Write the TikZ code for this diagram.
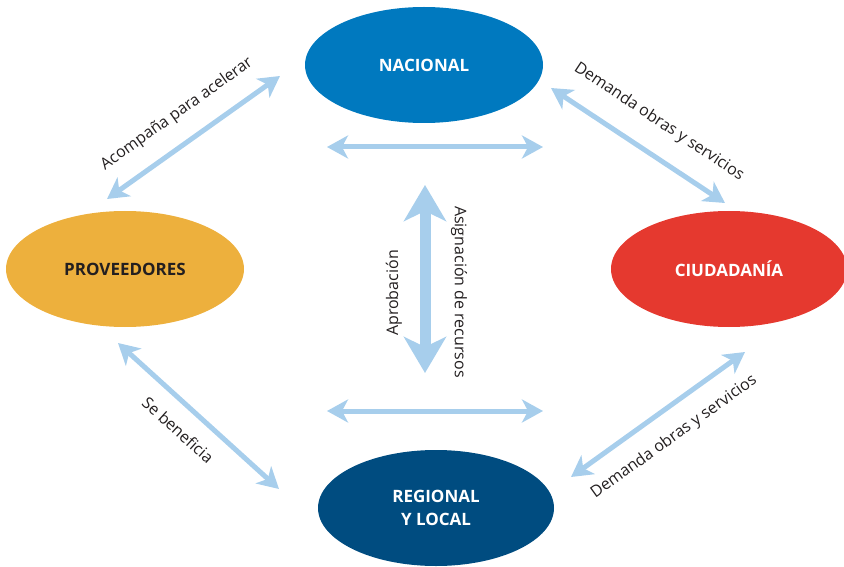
\documentclass[tikz,border=0pt]{standalone}
\usepackage{fontspec}
\setmainfont{Open Sans}
\usetikzlibrary{arrows.meta,shapes.geometric}
\definecolor{nacblue}{HTML}{0079BF}
\definecolor{regblue}{HTML}{004C80}
\definecolor{provyel}{HTML}{EDB03D}
\definecolor{ciured}{HTML}{E5392F}
\definecolor{arrblue}{HTML}{A7CEEC}
\definecolor{txt}{HTML}{231F20}
\tikzset{
  ent/.style={ellipse, minimum width=238pt, minimum height=116pt, inner sep=0pt,
    font=\fontsize{17}{23}\selectfont\bfseries, align=center},
  link/.style={draw=arrblue, line width=5pt,
    {Stealth[length=21pt,width=23pt,inset=6pt]}-{Stealth[length=21pt,width=23pt,inset=6pt]}},
  biglink/.style={draw=arrblue, line width=11pt,
    {Stealth[length=36pt,width=42pt,inset=10pt]}-{Stealth[length=36pt,width=42pt,inset=10pt]}},
  lbl/.style={font=\fontsize{16}{18}\selectfont, text=txt, inner sep=0pt}
}
\begin{document}
\begin{tikzpicture}[x=1pt,y=-1pt]
\useasboundingbox (0,0) rectangle (844,567);
\begin{scope}
\clip (0,0) rectangle (844,567);
\node[ent, fill=nacblue, text=white] (nac) at (424,65) {NACIONAL};
\node[ent, fill=provyel, text=txt] (prov) at (125,269) {PROVEEDORES};
\node[ent, fill=ciured, text=white, minimum width=236pt] (ciu) at (729,269) {CIUDADANÍA};
\node[ent, fill=regblue, text=white, minimum width=236pt] (reg) at (436,508) {REGIONAL\\Y LOCAL};
\end{scope}
% arrow endpoints
\coordinate (th1) at (327,147); \coordinate (th2) at (543,147);
\coordinate (bh1) at (327,411); \coordinate (bh2) at (543,411);
\coordinate (v1) at (425,185); \coordinate (v2) at (425,373);
\coordinate (ul1) at (280,76); \coordinate (ul2) at (107,199);
\coordinate (ur1) at (551,88); \coordinate (ur2) at (725,203);
\coordinate (ll1) at (118,343); \coordinate (ll2) at (279,489);
\coordinate (lr1) at (745,352); \coordinate (lr2) at (571,477);
\draw[link] (th1) -- (th2);
\draw[link] (bh1) -- (bh2);
\draw[biglink] (v1) -- (v2);
\draw[link] (ul1) -- (ul2);
\draw[link] (ur1) -- (ur2);
\draw[link] (ll1) -- (ll2);
\draw[link] (lr1) -- (lr2);
% labels
\node[lbl, rotate=35.4] (lab1) at (177,114) {Acompaña para acelerar};
\node[lbl, rotate=-33.5] (lab2) at (659,122) {Demanda obras y servicios};
\node[lbl, rotate=-42.2] (lab3) at (178,430) {Se beneficia};
\node[lbl, rotate=35.7] (lab4) at (674,437) {Demanda obras y servicios};
\node[lbl, rotate=90] (lab5) at (394,293) {Aprobación};
\node[lbl, rotate=-90] (lab6) at (459,292) {Asignación de recursos};
\end{tikzpicture}
\end{document}
